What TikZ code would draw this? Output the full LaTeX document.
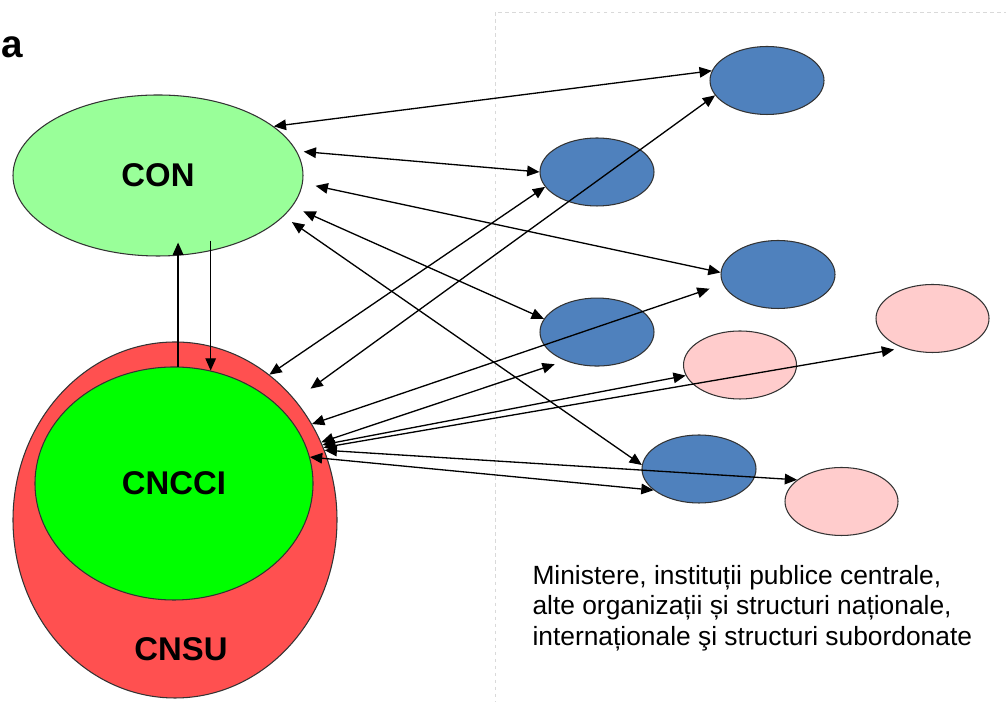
\documentclass[tikz,border=0pt]{standalone}
\usepackage{fontspec}
\setsansfont{Liberation Sans}
\usetikzlibrary{arrows.meta, positioning, shapes.geometric, calc}

\definecolor{conGreen}{RGB}{153,255,153}
\definecolor{cncciGreen}{RGB}{0,255,0}
\definecolor{cnsuRed}{RGB}{255,80,80}
\definecolor{memberBlue}{RGB}{79,129,189}
\definecolor{partnerPink}{RGB}{255,204,204}

\begin{document}
\begin{tikzpicture}[
        font=\sffamily,
        every node/.style={ellipse, draw=black!80, line width=0.6pt, inner sep=0pt},
        big/.style={font=\sffamily\bfseries\fontsize{18.7}{22}\selectfont},
        member/.style={fill=memberBlue, minimum width=2.28cm, minimum height=1.36cm},
        partner/.style={fill=partnerPink, minimum width=2.26cm, minimum height=1.36cm},
        arrow/.style={-{Triangle[length=7pt, width=6pt]}, line width=0.75pt},
        twoway/.style={{Triangle[length=7pt, width=6pt]}-{Triangle[length=7pt, width=6pt]}, line width=0.75pt}
    ]
    \useasboundingbox (0,0) rectangle (20.12,14.04);

    % Frame of the right part
    \draw[black!15, dash pattern=on 2pt off 2pt, line width=0.5pt] (20.3,13.8) -- (9.9,13.8) -- (9.9,-0.2);

    % Nodes
    \node[draw=none, rectangle, anchor=base west, font=\sffamily\bfseries\fontsize{22}{26}\selectfont] (part) at (0.02,12.88) {a};
    \node[fill=conGreen, minimum width=5.8cm, minimum height=3.22cm, big] (CON) at (3.16,10.53) {CON};
    \node[fill=cnsuRed, minimum width=6.48cm, minimum height=7.12cm] (CNSU) at (3.50,3.64) {};
    \node[fill=cncciGreen, minimum width=5.56cm, minimum height=4.66cm, big] (CNCCI) at (3.48,4.37) {CNCCI};
    \node[draw=none, rectangle, big] (cnsutext) at (3.62,1.06) {CNSU};

    \node[member] (M1) at (15.34,12.43) {};
    \node[member] (M2) at (11.94,10.60) {};
    \node[member] (M3) at (15.56,8.55) {};
    \node[member] (M4) [below=1.82cm of M2] {};
    \node[member] (M5) at (13.98,4.66) {};
    \node[partner] (O1) at (18.65,7.67) {};
    \node[partner] (O2) at (14.80,6.74) {};
    \node[partner] (O3) at (16.83,4.01) {};

    \node[draw=none, rectangle, anchor=north west, align=left, font=\sffamily\fontsize{15}{17.2}\selectfont] (caption) at (10.64,2.74)
        {Ministere, instituții publice centrale,\\alte organizații și structuri naționale,\\internaționale şi structuri subordonate};

    % Arrows between CON and CNCCI
    \draw[arrow] (CNCCI.88.5) -- +(0,2.48);
    \draw[arrow] ($(CNCCI.72)+(0,2.6)$) -- (CNCCI.72);

    % Arrows from CON
    \draw[twoway] (CON.23) -- (M1.170);
    \draw[twoway, shorten <=0.14cm] (CON.10) -- (M2.180);
    \draw[twoway, shorten <=0.26cm] (CON.-3.5) -- (M3.178.5);
    \draw[twoway, shorten <=0.24cm] (CON.-13.4) -- (M4.166.7);
    \draw[twoway, shorten <=0.2cm] (CON.-18.4) -- (M5.176);

    % Arrows from CNSU / CNCCI
    \draw[twoway] (CNSU.57) -- (M2.196.7);
    \draw[twoway, shorten <=0.38cm] (CNSU.45.6) -- (M1.196);
    \draw[twoway, shorten >=0.28cm] (CNSU.35.2) -- (M3.190);
    \draw[twoway, shorten >=0.22cm] (CNSU.28.3) -- (M4.222);
    \draw[twoway] (CNSU.27.7) -- (O2.191.7);
    \draw[twoway, shorten >=0.18cm] (CNSU.26.4) -- (O1.225);
    \draw[twoway] (CNSU.25.8) -- (O3.154.8);
    \draw[twoway] (CNCCI.11) -- (M5.205);

\end{tikzpicture}
\end{document}
